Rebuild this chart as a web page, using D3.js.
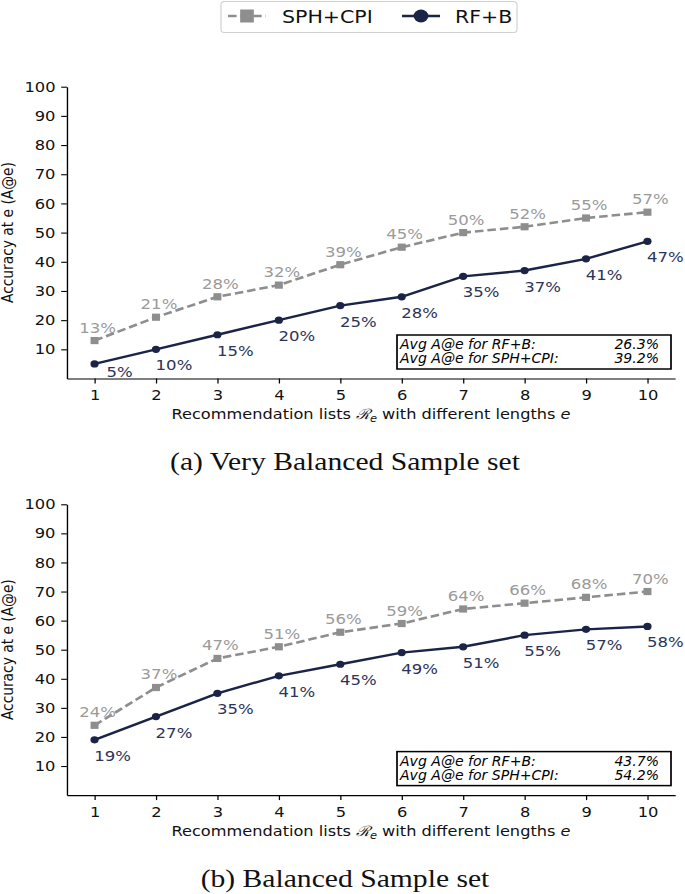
<!DOCTYPE html>
<html>
<head>
<meta charset="utf-8">
<script src="https://cdn.jsdelivr.net/npm/d3@7"></script>
<style>
  html, body { margin: 0; padding: 0; background: #fff; }
  svg { display: block; }
  text { font-family: "DejaVu Sans", sans-serif; }
</style>
</head>
<body>
<script>
// ---------- data ----------
const lengths = [1, 2, 3, 4, 5, 6, 7, 8, 9, 10];
const yTicks = [10, 20, 30, 40, 50, 60, 70, 80, 90, 100];
const seriesNames = ["SPH+CPI", "RF+B"];
const sphCpiVeryBalanced = [13, 21, 28, 32, 39, 45, 50, 52, 55, 57];
const rfBVeryBalanced    = [5, 10, 15, 20, 25, 28, 35, 37, 41, 47];
const sphCpiBalanced     = [24, 37, 47, 51, 56, 59, 64, 66, 68, 70];
const rfBBalanced        = [19, 27, 35, 41, 45, 49, 51, 55, 57, 58];
const captions = ["(a) Very Balanced Sample set", "(b) Balanced Sample set"];
const yLabel = "Accuracy at e (A@e)";

// ---------- style / layout ----------
const W = 685, H = 894;
const SX = 1.14;                 // the figure is stretched horizontally
const GRAY = "#8e8e8e", GRAY_TXT = "#9a9a9a";
const NAVY = "#1b2346", NAVY_TXT = "#2b3459";

const svg = d3.select("body").append("svg").attr("width", W).attr("height", H);
const root = svg.append("g").attr("transform", `scale(${SX},1)`);
const ux = px => px / SX;         // target px -> unstretched coords

const panels = [
  { sph: sphCpiVeryBalanced, rf: rfBVeryBalanced, caption: captions[0], yBottom: 378.5, yTop: 86.7 },
  { sph: sphCpiBalanced,     rf: rfBBalanced,     caption: captions[1], yBottom: 795.1, yTop: 504.3 }
];

const x = d3.scaleLinear().domain([0.55, 10.45]).range([ux(66.9), ux(675.1)]);

panels.forEach(p => {
  const y = d3.scaleLinear().domain([0, 100]).range([p.yBottom, p.yTop]);
  const g = root.append("g");

  // axes
  const ya = g.append("g").attr("transform", `translate(${x.range()[0]},0)`)
    .call(d3.axisLeft(y).tickValues(yTicks).tickSize(5).tickSizeOuter(0).tickPadding(5));
  const xa = g.append("g").attr("transform", `translate(0,${p.yBottom})`)
    .call(d3.axisBottom(x).tickValues(lengths).tickFormat(d3.format("d")).tickSize(5).tickSizeOuter(0).tickPadding(6.5));
  [ya, xa].forEach(a => {
    a.selectAll("path.domain").attr("stroke", "#000").attr("stroke-width", 1.2);
    a.selectAll(".tick line").attr("stroke", "#000").attr("stroke-width", 1.1);
    a.selectAll(".tick text").attr("fill", "#111").style("font-size", "14.3px")
      .style("font-family", "DejaVu Sans, sans-serif");
  });

  // y label
  g.append("text")
    .attr("transform", `translate(${ux(13.5)},${(p.yBottom + p.yTop) / 2}) rotate(-90)`)
    .attr("text-anchor", "middle")
    .style("font-size", "13.8px").attr("fill", "#111")
    .text(yLabel);

  // x label
  const xl = g.append("text")
    .attr("x", ux(371)).attr("y", p.yBottom + 41)
    .attr("text-anchor", "middle")
    .style("font-size", "14.2px").attr("fill", "#111");
  xl.append("tspan").text("Recommendation lists ");
  xl.append("tspan").style("font-family", "DejaVu Serif, serif").style("font-style", "italic").text("\u211B");
  xl.append("tspan").style("font-size", "10px").style("font-style", "italic").attr("dy", 3).text("e");
  xl.append("tspan").attr("dy", -3).text(" with different lengths ");
  xl.append("tspan").style("font-style", "italic").text("e");

  // lines
  const line = d3.line().x((d, i) => x(lengths[i])).y(d => y(d));
  g.append("path").datum(p.sph)
    .attr("d", line).attr("fill", "none").attr("stroke", GRAY)
    .attr("stroke-width", 2.6).attr("stroke-dasharray", "7.5,3.5");
  g.append("path").datum(p.rf)
    .attr("d", line).attr("fill", "none").attr("stroke", NAVY)
    .attr("stroke-width", 2.4);

  // markers
  g.selectAll("rect.sq").data(p.sph).enter().append("rect")
    .attr("x", (d, i) => x(lengths[i]) - 3.5).attr("y", d => y(d) - 3.6)
    .attr("width", 7).attr("height", 7.2).attr("fill", GRAY);
  g.selectAll("circle.ci").data(p.rf).enter().append("circle")
    .attr("cx", (d, i) => x(lengths[i])).attr("cy", d => y(d))
    .attr("r", 3.6).attr("fill", NAVY);

  // value labels
  g.selectAll("text.ls").data(p.sph).enter().append("text")
    .attr("x", (d, i) => x(lengths[i]) + ux(3)).attr("y", d => y(d) - 8)
    .attr("text-anchor", "middle").style("font-size", "14.5px").attr("fill", GRAY_TXT)
    .text(d => d + "%");
  // navy labels sit below-right of the point, but are kept inside the axes
  const limit = p.yBottom - 1.5;
  g.selectAll("text.lr").data(p.rf).enter().append("text")
    .attr("x", (d, i) => x(lengths[i]) + ux(y(d) + 21 > limit ? 25 : 18))
    .attr("y", d => Math.min(y(d) + 21, limit))
    .attr("text-anchor", "middle").style("font-size", "14.5px").attr("fill", NAVY_TXT)
    .text(d => d + "%");

  // average box
  const avgRF = d3.mean(p.rf), avgSPH = d3.mean(p.sph);
  const bx0 = ux(397), bx1 = ux(671), byBottom = p.yBottom - 9.5, byTop = byBottom - 34;
  g.append("rect").attr("x", bx0).attr("y", byTop).attr("width", bx1 - bx0).attr("height", byBottom - byTop)
    .attr("fill", "#fff").attr("stroke", "#000").attr("stroke-width", 1.5);
  const rows = [["Avg A@e for " + seriesNames[1] + ":", avgRF], ["Avg A@e for " + seriesNames[0] + ":", avgSPH]];
  rows.forEach((r, i) => {
    const by = byTop + 14 + i * 14.2;
    g.append("text").attr("transform", `translate(${ux(400)},${by}) scale(0.92,1)`)
      .style("font-size", "13.4px").style("font-style", "italic").attr("fill", "#000").text(r[0]);
    g.append("text").attr("transform", `translate(${ux(659)},${by}) scale(0.92,1)`)
      .attr("text-anchor", "end")
      .style("font-size", "13.4px").style("font-style", "italic").attr("fill", "#000").text(r[1].toFixed(1) + "%");
  });

  // caption
  g.append("text").attr("x", ux(345)).attr("y", p.yBottom + 92)
    .attr("text-anchor", "middle")
    .style("font-family", "Liberation Serif, serif").style("font-size", "26px").attr("fill", "#111")
    .text(p.caption);
});

// ---------- legend ----------
const lg = root.append("g");
lg.append("rect").attr("x", ux(221)).attr("y", 1.5).attr("width", ux(517) - ux(221)).attr("height", 31)
  .attr("rx", 3).attr("fill", "#fff").attr("stroke", "#d0d0d0").attr("stroke-width", 1);
lg.append("line").attr("x1", ux(228)).attr("x2", ux(266)).attr("y1", 16).attr("y2", 16)
  .attr("stroke", GRAY).attr("stroke-width", 2.6).attr("stroke-dasharray", "7.5,3.5");
lg.append("rect").attr("x", ux(247) - 6).attr("y", 16 - 6.5).attr("width", 12).attr("height", 13).attr("fill", GRAY);
lg.append("text").attr("x", ux(282)).attr("y", 23.5).style("font-size", "18px").attr("fill", "#111").text(seriesNames[0]);
lg.append("line").attr("x1", ux(402)).attr("x2", ux(440)).attr("y1", 16).attr("y2", 16)
  .attr("stroke", NAVY).attr("stroke-width", 2.6);
lg.append("circle").attr("cx", ux(421)).attr("cy", 16).attr("r", 6.5).attr("fill", NAVY);
lg.append("text").attr("x", ux(455)).attr("y", 23.5).style("font-size", "18px").attr("fill", "#111").text(seriesNames[1]);
</script>
</body>
</html>
